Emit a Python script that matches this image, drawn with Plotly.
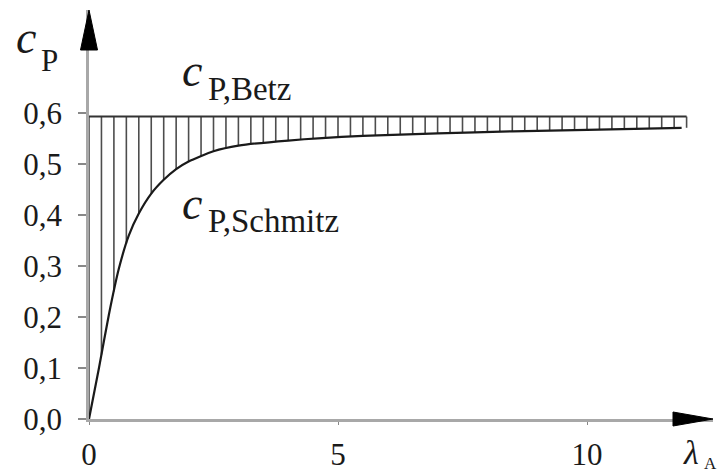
import numpy as np
import plotly.graph_objects as go

# ---- data ----
lam_schmitz = [0, 0.2, 0.4, 0.6, 0.8, 1.0, 1.25, 1.5, 1.75, 2.0, 2.5, 3.0,
               4.0, 5.5, 7.0, 8.5, 10.0, 11.9]
cp_schmitz = [0, 0.10, 0.205, 0.295, 0.36, 0.403, 0.442, 0.469, 0.490, 0.505, 0.525, 0.536,
              0.546, 0.555, 0.560, 0.564, 0.567, 0.571]
betz_value = 0.593
betz_lam = [0, 12.0]
hatch_step = 0.25

x_tickvals = [0, 5, 10]
x_ticktext = ["0", "5", "10"]
y_tickvals = [0.0, 0.1, 0.2, 0.3, 0.4, 0.5, 0.6]
y_ticktext = ["0,0", "0,1", "0,2", "0,3", "0,4", "0,5", "0,6"]

# ---- layout geometry ----
W, H = 718, 474
ML, MR, MT, MB = 89, 5, 10, 55
XMAX = (W - MR - ML) / 49.8
YMAX = (H - MB - MT) / 510.0
FONT = "Liberation Serif"
INK = "#1a1a1a"


def px2paper(px, py):
    return (px - ML) / (W - ML - MR), (H - MB - py) / (H - MB - MT)


fig = go.Figure()

# hatch lines between Betz and Schmitz
hx = np.arange(0, betz_lam[1] + 1e-9, hatch_step)
hb = np.interp(hx, lam_schmitz, cp_schmitz)
xs, ys = [], []
for x, b in zip(hx, hb):
    xs += [x, x, None]
    ys += [betz_value, b, None]
fig.add_trace(go.Scatter(x=xs, y=ys, mode="lines",
                         line=dict(color="#4d4d4d", width=1.6),
                         hoverinfo="skip", showlegend=False))

# Betz limit
fig.add_trace(go.Scatter(x=betz_lam, y=[betz_value, betz_value], mode="lines",
                         line=dict(color="#333333", width=2),
                         showlegend=False))

# Schmitz curve
fig.add_trace(go.Scatter(x=lam_schmitz, y=cp_schmitz, mode="lines",
                         line=dict(color=INK, width=2.2, shape="spline", smoothing=0.6),
                         showlegend=False))

shapes = []
# y arrowhead (top of y axis)
shapes.append(dict(type="path", xref="paper", yref="paper", xsizemode="pixel", ysizemode="pixel",
                   xanchor=0, yanchor=1, path="M -8.5 -40 L 8.5 -40 L 0 0 Z",
                   fillcolor="black", line=dict(color="black", width=1)))
# x arrowhead (right end of x axis)
shapes.append(dict(type="path", xref="paper", yref="paper", xsizemode="pixel", ysizemode="pixel",
                   xanchor=1, yanchor=0, path="M -40 -7 L -40 7 L 0 0 Z",
                   fillcolor="black", line=dict(color="black", width=1)))

annotations = []


def add_text(text, px, py, size, italic=False, anchor="left"):
    x, y = px2paper(px, py)
    t = "<i>%s</i>" % text if italic else text
    annotations.append(dict(text=t, x=x, y=y, xref="paper", yref="paper",
                            xanchor=anchor, yanchor="middle", showarrow=False,
                            font=dict(family=FONT, size=size, color=INK)))


add_text("c", 14, 37, 46, italic=True)
add_text("P", 39, 61, 31)
add_text("c", 180, 70, 46, italic=True)
add_text("P,Betz", 206, 89, 33)
add_text("c", 180, 204, 46, italic=True)
add_text("P,Schmitz", 206, 221, 33)
add_text("λ", 681, 452, 34, italic=True)
add_text("A", 702, 464, 17)

fig.update_layout(
    width=W, height=H,
    margin=dict(l=ML, r=MR, t=MT, b=MB, autoexpand=False),
    paper_bgcolor="white", plot_bgcolor="white",
    shapes=shapes, annotations=annotations,
    xaxis=dict(range=[0, XMAX], showgrid=False, zeroline=False, automargin=False,
               showline=True, linecolor="#a8a8a8", linewidth=2.5,
               tickmode="array", tickvals=x_tickvals, ticktext=x_ticktext,
               ticks="outside", ticklen=3, tickcolor="#888888", tickwidth=1,
               ticklabelstandoff=3,
               tickfont=dict(family=FONT, size=31, color=INK)),
    yaxis=dict(range=[0, YMAX], showgrid=False, zeroline=False, automargin=False,
               showline=True, linecolor="#a8a8a8", linewidth=2.5,
               tickmode="array", tickvals=y_tickvals, ticktext=y_ticktext,
               ticks="outside", ticklen=8, tickcolor="#888888", tickwidth=1.5,
               ticklabelstandoff=10,
               tickfont=dict(family=FONT, size=31, color=INK)),
)

fig.write_html("out.html", config={"displayModeBar": False},
               post_script="document.body.style.margin='0px';")
